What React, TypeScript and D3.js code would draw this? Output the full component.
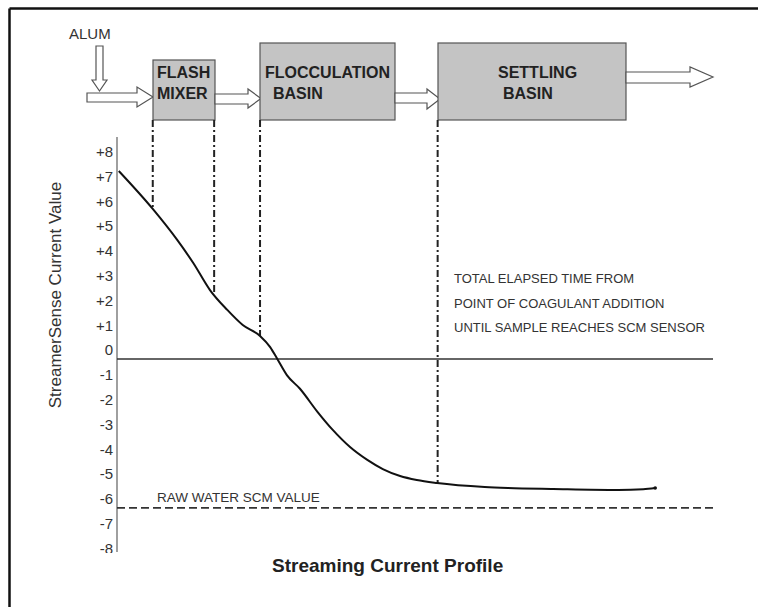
import React from "react";
import * as d3 from "d3";

// ---- data ----
const yTicks = [8, 7, 6, 5, 4, 3, 2, 1, 0, -1, -2, -3, -4, -5, -6, -7, -8];
const curveX = [0.3, 6.0, 10.1, 12.8, 15.6, 18.5, 21.1, 24.0, 25.7, 26.9, 28.5, 30.7, 33.6, 36.2, 39.1, 42.0, 44.6, 47.5, 50.3, 53.7, 61.7, 65.6, 73.2, 84.1, 88.3, 90.3];
const curveY = [7.58, 6.05, 4.8, 3.87, 2.78, 1.98, 1.37, 0.93, 0.48, 0.0, -0.65, -1.2, -2.12, -2.86, -3.55, -4.07, -4.44, -4.72, -4.88, -5.0, -5.16, -5.2, -5.24, -5.28, -5.25, -5.2];
const rawWaterValue = -6;
const stageNames = ["FLASH MIXER", "FLOCCULATION BASIN", "SETTLING BASIN"];
const stageBoundaryX = [6.0, 16.3, 24.0, 53.8];
const noteLines = [
  "TOTAL ELAPSED TIME FROM",
  "POINT OF COAGULANT ADDITION",
  "UNTIL SAMPLE REACHES SCM SENSOR",
];

const W = 758;
const H = 607;
const FONT = "Arial, 'Liberation Sans', Helvetica, sans-serif";

export default function App() {
  const x = d3.scaleLinear().domain([0, 100]).range([117, 713]);
  const y = d3.scaleLinear().domain([-8, 8]).range([359 + 8 * 24.8, 359 - 8 * 24.8]);

  const pts: [number, number][] = curveX.map((v, i) => [v, curveY[i]]);
  const line = d3
    .line<[number, number]>()
    .x((d) => x(d[0]))
    .y((d) => y(d[1]))
    .curve(d3.curveMonotoneX);

  const interp = (xv: number) => {
    for (let i = 0; i < curveX.length - 1; i++) {
      if (xv >= curveX[i] && xv <= curveX[i + 1]) {
        const t = (xv - curveX[i]) / (curveX[i + 1] - curveX[i]);
        return curveY[i] + t * (curveY[i + 1] - curveY[i]);
      }
    }
    return curveY[curveY.length - 1];
  };

  const boxStroke = "#555";
  const boxFill = "#c4c4c4";
  const arrowStroke = "#555";

  const hArrow = (x0: number, x1: number, xt: number, sy0: number, sy1: number, hy0: number, hy1: number) =>
    `M${x0},${sy0} L${x1},${sy0} L${x1},${hy0} L${xt},${(hy0 + hy1) / 2} L${x1},${hy1} L${x1},${sy1} L${x0},${sy1} Z`;

  const [mixer, floc, settle] = stageNames.map((s) => s.split(" "));

  return (
    <svg
      width={W}
      height={H}
      style={{ position: "absolute", left: 0, top: 0, background: "#fff" }}
      fontFamily={FONT}
    >
      <defs>
        <clipPath id="plotClip">
          <rect x={0} y={130} width={W} height={423} />
        </clipPath>
      </defs>
      {/* frame */}
      <line x1={9.5} y1={8.5} x2={W} y2={8.5} stroke="#111" strokeWidth={2.5} />
      <line x1={9.5} y1={8.5} x2={9.5} y2={H} stroke="#111" strokeWidth={2.5} />

      {/* process diagram */}
      <text x={69} y={38.5} fontSize={15} fill="#333">ALUM</text>
      <path d={hArrow(87, 137, 153, 93, 102, 87, 107)} fill="#fff" stroke={arrowStroke} strokeWidth={1.2} />
      <path
        d="M96,46 L103,46 L103,80 L107,80 L99.5,91 L92,80 L96,80 Z"
        fill="#fff"
        stroke={arrowStroke}
        strokeWidth={1.2}
      />
      <rect x={153} y={60} width={62} height={60} fill={boxFill} stroke={boxStroke} strokeWidth={1.2} />
      <path d={hArrow(215, 248, 261, 94, 104, 89, 108)} fill="#fff" stroke={arrowStroke} strokeWidth={1.2} />
      <rect x={260} y={43} width={135} height={77} fill={boxFill} stroke={boxStroke} strokeWidth={1.2} />
      <path d={hArrow(395, 427, 440, 93, 103, 89, 109)} fill="#fff" stroke={arrowStroke} strokeWidth={1.2} />
      <rect x={438} y={43} width={188} height={77} fill={boxFill} stroke={boxStroke} strokeWidth={1.2} />
      <path d={hArrow(626, 690, 713, 72, 83, 67, 87)} fill="#fff" stroke={arrowStroke} strokeWidth={1.2} />

      <g fontSize={16} fontWeight="bold" fill="#222">
        <text x={157} y={78}>{mixer[0]}</text>
        <text x={157} y={99}>{mixer[1]}</text>
        <text x={265} y={78}>{floc[0]}</text>
        <text x={273} y={99}>{floc[1]}</text>
        <text x={498} y={78}>{settle[0]}</text>
        <text x={503} y={99}>{settle[1]}</text>
      </g>

      {/* stage boundary lines */}
      {stageBoundaryX.map((bx, i) => (
        <line
          key={i}
          x1={x(bx)}
          x2={x(bx)}
          y1={120}
          y2={y(interp(bx))}
          stroke="#222"
          strokeWidth={2}
          strokeDasharray="7,3,2,3"
        />
      ))}

      {/* axis */}
      <line x1={117} x2={117} y1={137} y2={552} stroke="#888" strokeWidth={1.6} />
      <g clipPath="url(#plotClip)" fontSize={15} fill="#333" textAnchor="end">
        {yTicks.map((t) => (
          <text key={t} x={113} y={y(t) - 3.6}>
            {t > 0 ? `+${t}` : `${t}`}
          </text>
        ))}
      </g>
      <text
        transform="translate(55,295) rotate(-90)"
        textAnchor="middle"
        dominantBaseline="central"
        fontSize={17}
        fill="#333"
      >
        StreamerSense Current Value
      </text>

      {/* zero line */}
      <line x1={x(0)} x2={x(100)} y1={y(0)} y2={y(0)} stroke="#333" strokeWidth={1.6} />
      {/* raw water line */}
      <line
        x1={x(0)}
        x2={x(100)}
        y1={y(rawWaterValue)}
        y2={y(rawWaterValue)}
        stroke="#333"
        strokeWidth={1.8}
        strokeDasharray="8,4"
      />
      <text x={157} y={502} fontSize={13.5} fill="#333">RAW WATER SCM VALUE</text>

      {/* curve */}
      <path d={line(pts) || ""} fill="none" stroke="#111" strokeWidth={2} />
      <circle cx={x(curveX[curveX.length - 1])} cy={y(curveY[curveY.length - 1])} r={1.8} fill="#111" />

      {/* note */}
      <g fontSize={13} fill="#333">
        {noteLines.map((l, i) => (
          <text key={i} x={454} y={283 + i * 24.5}>{l}</text>
        ))}
      </g>

      {/* title */}
      <text x={272} y={572} fontSize={19} fontWeight="bold" fill="#222">
        Streaming Current Profile
      </text>
    </svg>
  );
}
